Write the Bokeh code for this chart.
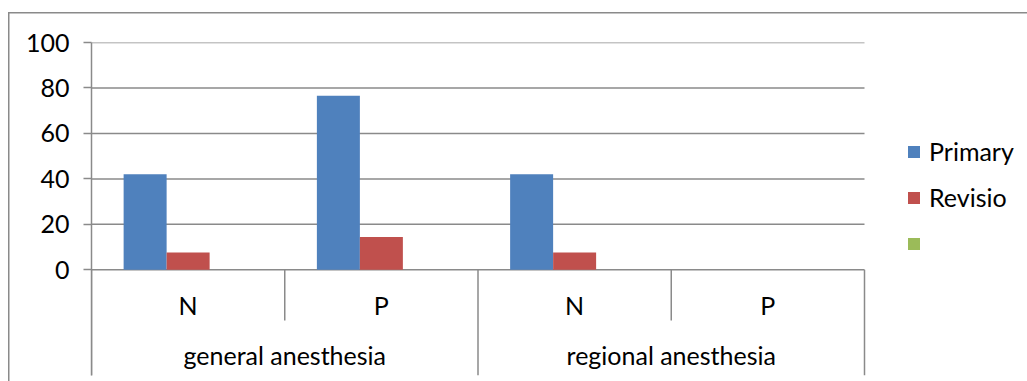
from bokeh.plotting import figure
from bokeh.models import Range1d, FixedTicker, ColumnDataSource, Legend, LegendItem
from bokeh.transform import dodge
from bokeh.embed import file_html
from bokeh.resources import INLINE
from bokeh.core.properties import value
import numpy as np

# ---- data ----
groups = ["general anesthesia", "regional anesthesia"]
subcats = ["N", "P", "N", "P"]
series_names = ["Primary", "Revisio", ""]
primary = [42, 76.6, 42, 0]
revisio = [7.6, 14.4, 7.6, 0]
third = [0, 0, 0, 0]
y_ticks = [0, 20, 40, 60, 80, 100]
colors = ["#4f81bd", "#c0504d", "#9bbb59"]

FONT = "Lato"
FS = "25px"
GRID = "#8a8a8a"

W, H = 1027, 381
LEFT = 91
PLOT_W = 773          # width in px of the category area
n = len(subcats)
per_group = n // len(groups)
xc = list(np.arange(n) + 0.5)
bw = 0.2225

outer_css = ("linear-gradient(#8a8a8a,#8a8a8a) 8px 12px / 1.5px 100% no-repeat, "
             "linear-gradient(#8a8a8a,#8a8a8a) 8px 12px / 100% 1.5px no-repeat, white")

p = figure(width=W, height=H, output_backend="svg", toolbar_location=None,
           x_range=Range1d(0, n * (W - LEFT) / PLOT_W), y_range=Range1d(-46.5, 100),
           min_border_left=LEFT, min_border_right=0, min_border_top=42,
           min_border_bottom=6, x_axis_location=None,
           styles={"background": outer_css})
p.border_fill_color = None
p.background_fill_color = "white"
p.outline_line_color = None
p.xgrid.visible = False
p.ygrid.visible = False

ya = p.yaxis[0]
ya.ticker = FixedTicker(ticks=y_ticks)
ya.major_tick_out = 8
ya.major_tick_in = 0
ya.minor_tick_out = 0
ya.minor_tick_in = 0
ya.axis_line_color = GRID
ya.axis_line_width = 1.5
ya.major_tick_line_color = GRID
ya.major_tick_line_width = 1.5
ya.major_label_text_font = FONT
ya.major_label_text_font_size = FS
ya.major_label_text_color = "black"
ya.major_label_standoff = 14

# horizontal gridlines across the category area only
p.segment(x0=[0] * len(y_ticks), x1=[n] * len(y_ticks), y0=y_ticks, y1=y_ticks,
          line_color=GRID, line_width=1.5)

src = ColumnDataSource(dict(x=xc, primary=primary, revisio=revisio, third=third))
renderers = []
for k, (col, c) in enumerate(zip(["primary", "revisio", "third"], colors)):
    r = p.vbar(x=dodge("x", (k - 1) * bw, range=p.x_range), top=col, bottom=0,
               width=bw, source=src, fill_color=c, line_color=None)
    renderers.append(r)

# category separators below the axis
short_end = -22.3
x0s, y0s, x1s, y1s = [], [], [], []
for i in range(n + 1):
    end = p.y_range.start if i % per_group == 0 else short_end
    x0s.append(i); x1s.append(i); y0s.append(0); y1s.append(end)
p.segment(x0=x0s, y0=y0s, x1=x1s, y1=y1s, line_color=GRID, line_width=1.5)

# category labels
p.text(x=xc, y=[-15.7] * n, text=subcats, text_font=value(FONT), text_font_size=FS,
       text_align="center", text_baseline="middle", text_color="black")
gx = [per_group * g + per_group / 2 for g in range(len(groups))]
p.text(x=gx, y=[-37.6] * len(groups), text=groups, text_font=value(FONT),
       text_font_size=FS, text_align="center", text_baseline="middle", text_color="black")

legend = Legend(items=[LegendItem(label=nm, renderers=[r]) for nm, r in zip(series_names, renderers)],
                location=(815, 117), orientation="vertical",
                glyph_width=15, glyph_height=15, label_standoff=8,
                label_height=30, spacing=16, padding=0, margin=0,
                border_line_color=None, background_fill_alpha=0,
                label_text_font=FONT, label_text_font_size=FS, label_text_color="black")
p.add_layout(legend, "center")

open("out.html", "w").write(file_html(p, INLINE))
